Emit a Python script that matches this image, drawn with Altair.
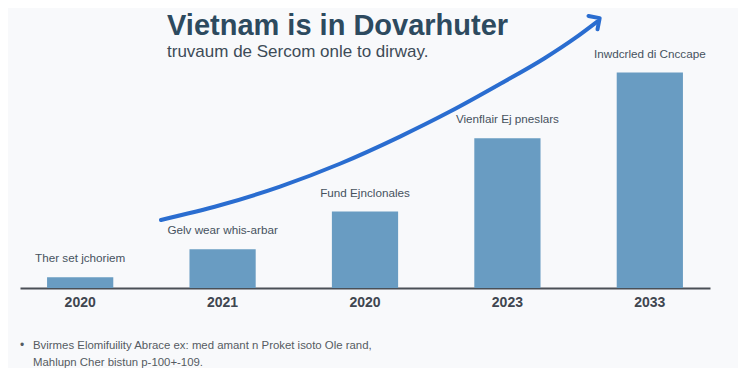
import json
import altair as alt
import pandas as pd

# ---------------- data ----------------
years = ["2020", "2021", "2020", "2023", "2033"]
values = [5, 18, 35.5, 69.5, 100]
bar_labels = [
    "Ther set jchoriem",
    "Gelv wear whis-arbar",
    "Fund Ejnclonales",
    "Vienflair Ej pneslars",
    "Inwdcrled di Cnccape",
]
# trend arrow, x in bar-position units, y in value units
arrow_x = [0.592, 1.007, 1.430, 1.852, 2.275, 2.627, 2.979, 3.296, 3.507, 3.662]
arrow_y = [31.6, 38.4, 47.1, 57.7, 70.3, 81.9, 94.7, 106.8, 116.0, 123.6]
arrow_head_x = [3.634]
arrow_head_y = [123.2]

title = "Vietnam is in Dovarhuter"
subtitle = "truvaum de Sercom onle to dirway."
footnote = [
    "Bvirmes Elomifuility Abrace ex: med amant n Proket isoto Ole rand,",
    "Mahlupn Cher bistun p-100+-109.",
]

# ---------------- tables ----------------
bars_df = pd.DataFrame({
    "pos": list(range(len(years))),
    "year": years,
    "value": values,
    "label": bar_labels,
})
arrow_df = pd.DataFrame({"ax": arrow_x, "ay": arrow_y})
head_df = pd.DataFrame({"ax": arrow_head_x, "ay": arrow_head_y})

FONT = "Liberation Sans"
BAR_COLOR = "#699cc2"
ARROW_COLOR = "#2a6dd0"
W, H = 690, 280
Y_DOMAIN = [0, 130]

label_expr = "[" + ",".join(json.dumps(y) for y in years) + "][datum.value]"

x_band = alt.X(
    "pos:O",
    scale=alt.Scale(paddingInner=0.535, paddingOuter=0.19),
    axis=alt.Axis(
        title=None,
        labelExpr=label_expr,
        labelAngle=0,
        ticks=False,
        grid=False,
        domainColor="#4a4f56",
        domainWidth=2,
        labelFont=FONT,
        labelFontSize=14,
        labelFontWeight="bold",
        labelColor="#3f4650",
        labelPadding=7,
    ),
)
y_val = alt.Y("value:Q", scale=alt.Scale(domain=Y_DOMAIN, nice=False), axis=None)

bars = alt.Chart(bars_df).mark_bar(color=BAR_COLOR)
labels = alt.Chart(bars_df).mark_text(
    dy=-19, baseline="middle", align="center", font=FONT, fontSize=11.7, color="#46525e"
).encode(text="label:N")
bar_layer = alt.layer(bars, labels).encode(x=x_band, y=y_val)

x_arrow = alt.X("ax:Q", scale=alt.Scale(domain=[-0.401, 4.458], nice=False, zero=False), axis=None)
y_arrow = alt.Y("ay:Q", scale=alt.Scale(domain=Y_DOMAIN, nice=False), axis=None)
arrow_line = alt.Chart(arrow_df).mark_line(
    color=ARROW_COLOR, strokeWidth=4, interpolate="monotone", strokeCap="round"
).encode(order="ax:Q")
arrow_head = alt.Chart(head_df).mark_point(
    shape="M -1 0 L 0 -1 L 1 0", size=260, angle=56, filled=False,
    color=ARROW_COLOR, strokeWidth=4, opacity=1, strokeCap="round", strokeJoin="round",
)
arrow_layer = alt.layer(arrow_line, arrow_head).encode(x=x_arrow, y=y_arrow)

one = alt.Data(values=[{"k": 0}])
title_txt = alt.Chart(one).mark_text(
    text=title, align="left", baseline="alphabetic", font=FONT, fontSize=29,
    fontWeight="bold", color="#2d4a5f",
).encode(x=alt.value(147), y=alt.value(26.5))
subtitle_txt = alt.Chart(one).mark_text(
    text=subtitle, align="left", baseline="alphabetic", font=FONT, fontSize=17,
    color="#3d4b57",
).encode(x=alt.value(147), y=alt.value(48.5))
bullet_txt = alt.Chart(one).mark_text(
    text="•", align="left", baseline="alphabetic", font=FONT, fontSize=12, color="#555b62",
).encode(x=alt.value(0), y=alt.value(340.5))
foot_txt = alt.Chart(one).mark_text(
    text=footnote, align="left", baseline="alphabetic", font=FONT, fontSize=11.4,
    lineHeight=17, color="#555b62",
).encode(x=alt.value(13), y=alt.value(340.5))

chart = (
    alt.layer(bar_layer, arrow_layer, title_txt, subtitle_txt, bullet_txt, foot_txt)
    .resolve_scale(x="independent")
    .properties(width=W, height=H, padding={"left": 12, "top": 0, "right": 28, "bottom": 0})
    .configure(background="#f8f9fb")
    .configure_view(stroke=None)
)

chart.save("out.html", embed_options={"renderer": "svg", "actions": False})
